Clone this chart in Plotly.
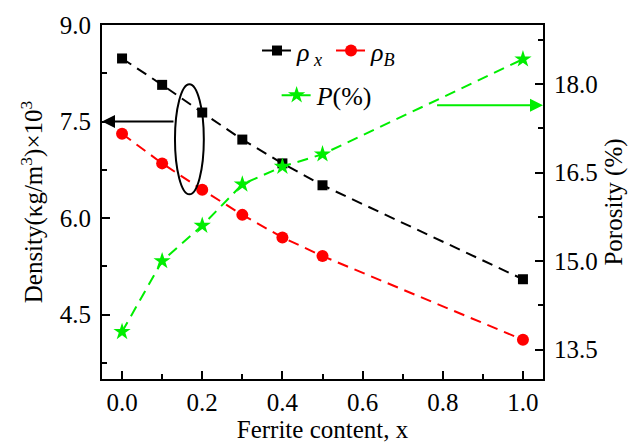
import plotly.graph_objects as go

# Ferrite content and measured properties
ferrite_x = [0.0, 0.1, 0.2, 0.3, 0.4, 0.5, 1.0]
rho_x = [8.48, 8.07, 7.64, 7.22, 6.85, 6.51, 5.05]      # X-ray density
rho_b = [7.31, 6.85, 6.44, 6.05, 5.70, 5.41, 4.11]      # bulk density
porosity = [13.80, 15.00, 15.60, 16.30, 16.60, 16.81, 18.42]

x_ticks = [0.0, 0.2, 0.4, 0.6, 0.8, 1.0]
left_ticks = [4.5, 6.0, 7.5, 9.0]
right_ticks = [13.5, 15.0, 16.5, 18.0]

FONT = "Liberation Serif"
TICK_SIZE = 25
TITLE_SIZE = 25
LEGEND_SIZE = 26

fig = go.Figure()
fig.add_trace(go.Scatter(
    x=ferrite_x, y=rho_x, mode="lines+markers", yaxis="y",
    name="<i>ρ</i><sub> <i>x</i></sub>",
    line=dict(color="black", width=2, dash="11px,7px"),
    marker=dict(symbol="square", size=10, color="black"),
    legend="legend"))
fig.add_trace(go.Scatter(
    x=ferrite_x, y=rho_b, mode="lines+markers", yaxis="y",
    name="<i>ρ</i><sub><i>B</i></sub>",
    line=dict(color="red", width=2, dash="11px,7px"),
    marker=dict(symbol="circle", size=12, color="red"),
    legend="legend"))
fig.add_trace(go.Scatter(
    x=ferrite_x, y=porosity, mode="lines+markers", yaxis="y2",
    name="<i>P</i>(%)",
    line=dict(color="#00ee00", width=2, dash="11px,7px"),
    marker=dict(symbol="star", size=13, color="#00ee00"),
    legend="legend2"))

axis_common = dict(
    showline=True, linecolor="black", linewidth=2,
    ticks="inside", ticklen=8, tickwidth=2, tickcolor="black",
    showgrid=False, zeroline=False,
    tickfont=dict(family=FONT, size=TICK_SIZE, color="black"),
)

fig.update_layout(
    width=643, height=447,
    margin=dict(l=102, r=100, t=21, b=68),
    plot_bgcolor="white", paper_bgcolor="white",
    font=dict(family=FONT, color="black"),
    xaxis=dict(
        **axis_common, range=[-0.05, 1.05], tickvals=x_ticks,
        tickformat=".1f", mirror=True,
        minor=dict(dtick=0.1, ticks="inside", ticklen=5, tickwidth=2, tickcolor="black"),
        title=dict(text="Ferrite content, x", font=dict(family=FONT, size=TITLE_SIZE),
                   standoff=0),
    ),
    yaxis=dict(
        **axis_common, range=[3.5, 9.0], tickvals=left_ticks,
        tickformat=".1f", ticklabelstandoff=4,
        minor=dict(tickvals=[3.75, 5.25, 6.75, 8.25], ticks="inside", ticklen=5,
                   tickwidth=2, tickcolor="black"),
        title=dict(text="Density(κg/m<sup>3</sup>)×10<sup>3</sup>",
                   font=dict(family=FONT, size=TITLE_SIZE), standoff=10),
    ),
    yaxis2=dict(
        **axis_common, overlaying="y", side="right", range=[13.0, 19.0],
        tickvals=right_ticks, tickformat=".1f", ticklabelstandoff=4,
        minor=dict(tickvals=[14.25, 15.75, 17.25, 18.75], ticks="inside", ticklen=5,
                   tickwidth=2, tickcolor="black"),
        title=dict(text="Porosity (%)", font=dict(family=FONT, size=TITLE_SIZE), standoff=8),
    ),
    legend=dict(
        orientation="h", x=0.3515, y=0.994, xanchor="left", yanchor="top",
        bgcolor="rgba(0,0,0,0)", font=dict(family=FONT, size=LEGEND_SIZE),
        entrywidth=29, entrywidthmode="pixels", itemwidth=30, tracegroupgap=0,
    ),
    legend2=dict(
        x=0.396, y=0.868, xanchor="left", yanchor="top",
        bgcolor="rgba(0,0,0,0)", font=dict(family=FONT, size=LEGEND_SIZE),
    ),
    showlegend=True,
)

# Ellipse grouping the density curves, with an arrow to the left axis
fig.add_shape(type="circle", xref="x", yref="y",
              x0=0.132, x1=0.204, y0=6.37, y1=8.08,
              line=dict(color="black", width=2))
fig.add_annotation(x=-0.05, y=7.5, xref="x", yref="y",
                   ax=0.132, ay=7.5, axref="x", ayref="y",
                   showarrow=True, arrowhead=2, arrowsize=1.3, arrowwidth=2,
                   arrowcolor="black", text="")
# Arrow pointing the porosity curve to the right axis
fig.add_annotation(x=1.05, y=17.64, xref="x", yref="y2",
                   ax=0.782, ay=17.64, axref="x", ayref="y2",
                   showarrow=True, arrowhead=2, arrowsize=1.3, arrowwidth=2,
                   arrowcolor="#00ee00", text="")

fig.write_html("out.html")
